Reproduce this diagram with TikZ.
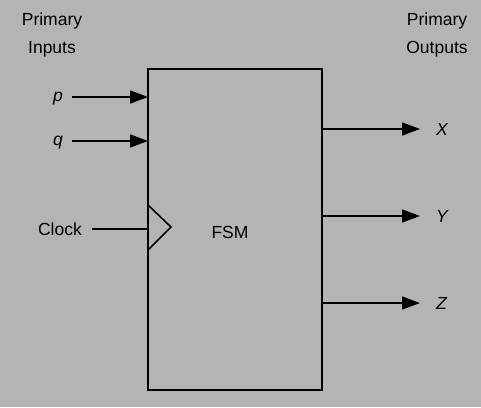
\documentclass[tikz,border=0pt]{standalone}
\usepackage{fontspec}
\setmainfont{Liberation Sans}
\usetikzlibrary{arrows.meta,positioning}
\definecolor{bggray}{RGB}{180,180,180}
\begin{document}
\begin{tikzpicture}[x=1pt,y=-1pt,line
				join=miter,line width=1.6pt,font=\fontsize{17.5}{21}\selectfont,
				>={Triangle[length=18pt,width=13pt]}]
				\fill[bggray] (0,0) rectangle (481,407);
				\useasboundingbox (0,0) rectangle (481,407);
				\def\bl{148}
				\def\br{322}
				\def\bt{69}
				\def\bb{390}
				\node[draw,rectangle,minimum width=\br-\bl,minimum height=\bb-\bt,
				inner sep=0pt] (fsm) at ({(\bl+\br)/2},{(\bt+\bb)/2}) {};
				\node (fsmlabel) at (230,232) {FSM};
				\node (inl1) at (52,21) {Primary};
				\node (inl2) at (52,49) {Inputs};
				\node (outl1) at (437,21) {Primary};
				\node (outl2) at (437,49) {Outputs};
				\path (\bl,97) coordinate (P)
				(\bl,141) coordinate (Q)
				(\bl,229) coordinate (C)
				(\bl,205) coordinate (T1)
				(171,227) coordinate (T2)
				(\bl,250) coordinate (T3)
				(\br,129) coordinate (X)
				(\br,216) coordinate (Y)
				(\br,303) coordinate (Z);
				\node[anchor=east] (p) at (67,99) {\itshape p};
				\node[anchor=east] (q) at (67,143) {\itshape q};
				\node[anchor=east] (clk) at (86,229) {Clock};
				\node[anchor=west] (x) at (432,129) {\itshape X};
				\node[anchor=west] (y) at (432,216) {\itshape Y};
				\node[anchor=west] (z) at (432,303) {\itshape Z};
				\draw[->] (72,97) coordinate (p0)--(P);
				\draw[->] (72,141) coordinate (q0)--(Q);
				\draw (92,229) coordinate (c0)--(C);
				\draw (T1)--(T2)--(T3);
				\draw[->] (X)--(420,129) coordinate (x1);
				\draw[->] (Y)--(420,216) coordinate (y1);
				\draw[->] (Z)--(420,303) coordinate (z1);
			\end{tikzpicture}
\end{document}
